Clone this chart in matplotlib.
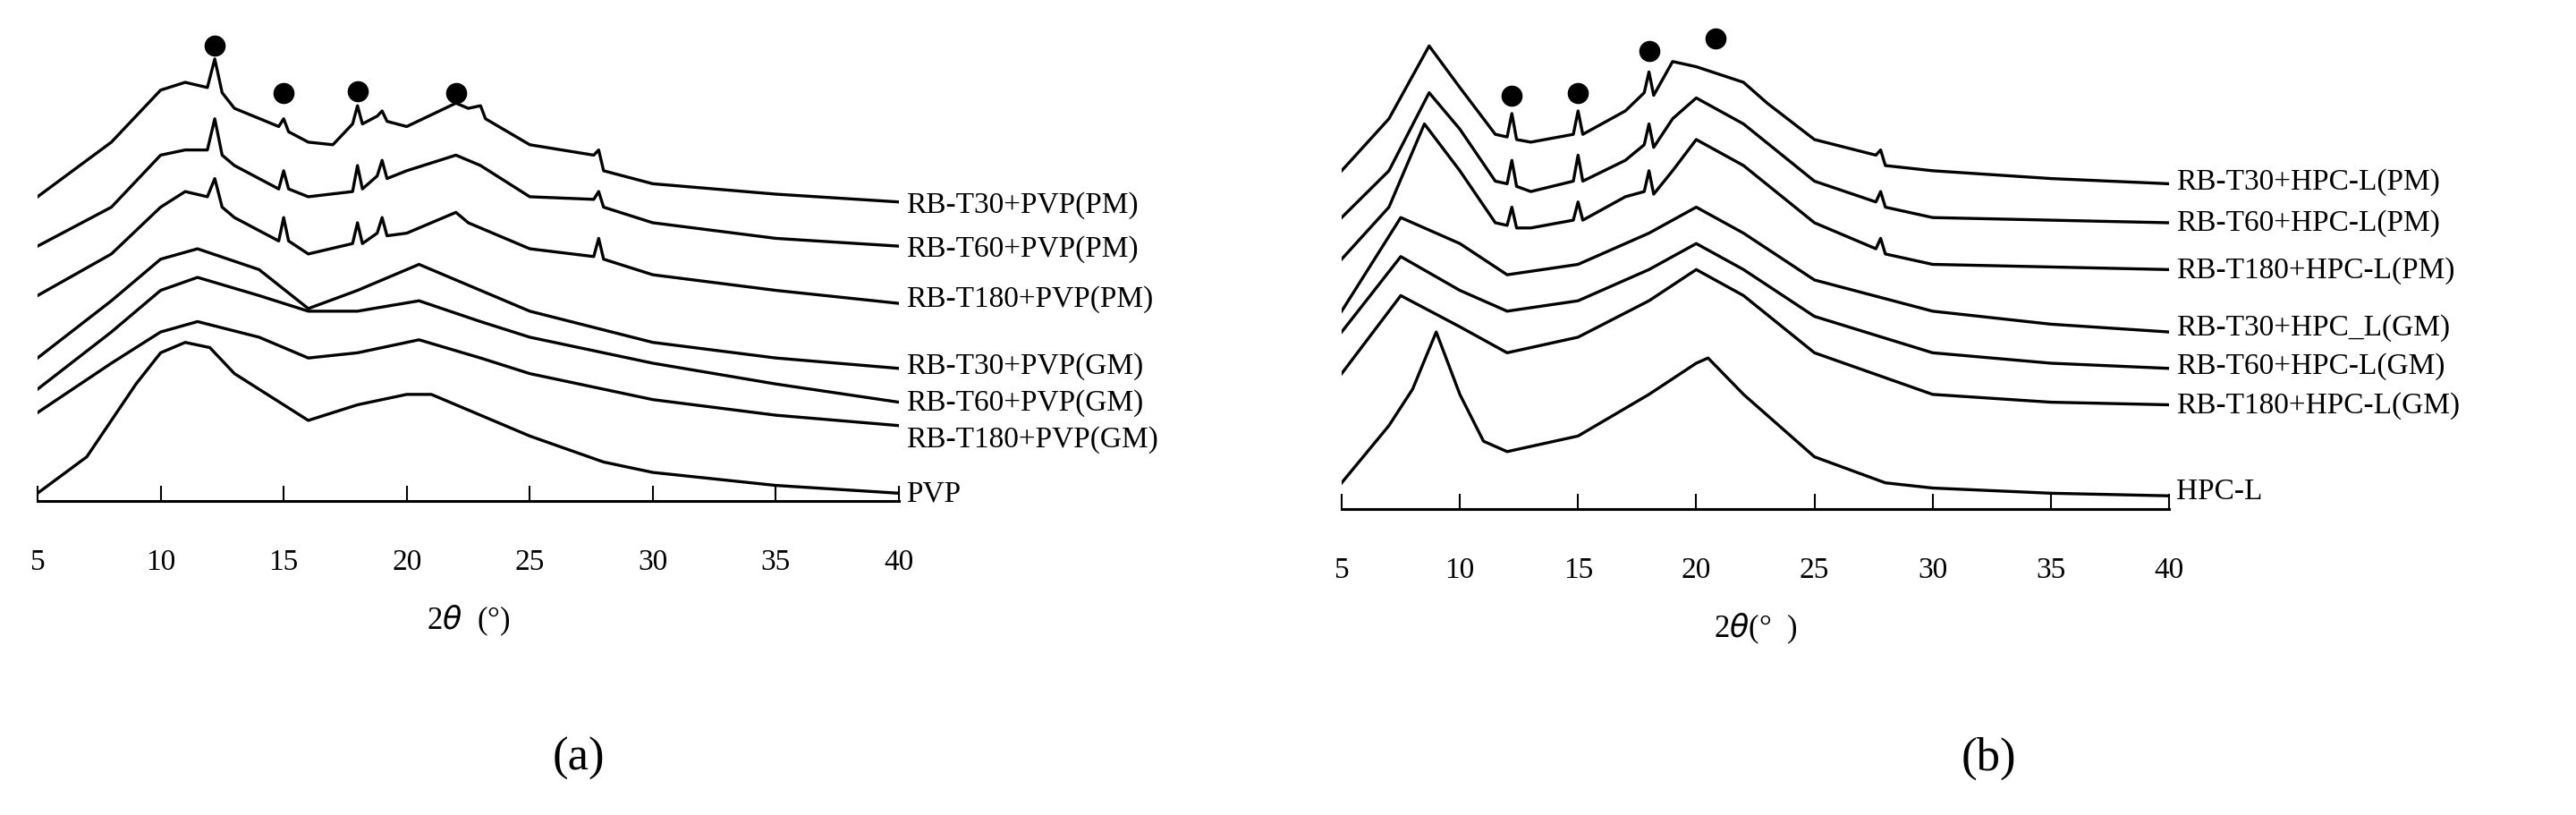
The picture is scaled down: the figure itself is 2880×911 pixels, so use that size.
import matplotlib
matplotlib.use("Agg")
import matplotlib.pyplot as plt

plt.rcParams['font.family'] = ['Liberation Serif', 'DejaVu Serif']

# ---- Panel (a): curves as (x, y_read) where y_read measured downward from the top (larger = lower)
a_axis = 965
a_names = ["RB-T30+PVP(PM)", "RB-T60+PVP(PM)", "RB-T180+PVP(PM)",
           "RB-T30+PVP(GM)", "RB-T60+PVP(GM)", "RB-T180+PVP(GM)", "PVP"]
a_x = [
 [5,8,10,11,11.9,12.2,12.5,13,14.8,15,15.2,16,17,17.8,18,18.2,18.8,19,19.2,20,22,22.5,23,23.2,25,27.6,27.8,28,30,35,40],
 [5,8,10,11,11.9,12.2,12.5,13,14.8,15,15.2,16,17.8,18,18.2,18.8,19,19.2,20,22,23,25,27.6,27.8,28,30,35,40],
 [5,8,10,11,11.9,12.2,12.5,13,14.8,15,15.2,16,17.8,18,18.2,18.8,19,19.2,20,22,22.5,25,27.6,27.8,28,30,35,40],
 [5,8,10,11.5,14,16,18,20.5,23,25,30,35,40],
 [5,8,10,11.5,14,16,18,20.5,23,25,30,35,40],
 [5,8,10,11.5,14,16,18,20.5,23,25,30,35,40],
 [5,7,9,10,11,12,13,15,16,18,20,21,23,25,28,30,35,40],
]
a_y = [
 [380,275,175,160,170,115,180,210,245,230,255,275,280,240,205,240,225,215,235,245,200,210,205,230,280,300,290,330,355,375,390],
 [475,400,300,290,290,230,300,320,365,330,365,380,370,320,365,340,310,345,330,300,320,380,385,370,400,430,460,475],
 [570,490,400,370,380,345,400,420,465,420,465,490,470,430,470,450,420,455,450,410,430,480,495,460,500,530,560,585],
 [690,580,500,480,520,595,560,510,560,600,660,690,710],
 [750,640,560,535,570,600,600,580,620,650,700,740,775],
 [795,700,640,620,650,690,680,655,690,720,770,800,820],
 [950,880,740,680,660,670,720,780,810,780,760,760,800,840,890,910,935,950],
]
a_lbl_y = [395, 480, 575, 705, 775, 845, 950]
a_dots_x = [12.2, 15.0, 18.0, 22.0]
a_dots_y = [90, 180, 178, 180]

# ---- Panel (b)
b_axis = 980
b_names = ["RB-T30+HPC-L(PM)", "RB-T60+HPC-L(PM)", "RB-T180+HPC-L(PM)",
           "RB-T30+HPC_L(GM)", "RB-T60+HPC-L(GM)", "RB-T180+HPC-L(GM)", "HPC-L"]
b_x = [
 [5,7,8.7,10,11.5,12.0,12.2,12.4,13,14.8,15,15.2,17,17.8,18,18.2,19,20,22,23,25,27.6,27.8,28,30,35,40],
 [5,7,8.7,10,11.5,12.0,12.2,12.4,13,14.8,15,15.2,17,17.8,18,18.2,19,20,22,25,27.6,27.8,28,30,35,40],
 [5,7,8.5,10,11.5,12.0,12.2,12.4,13,14.8,15,15.2,17,17.8,18,18.2,19,20,22,25,27.6,27.8,28,30,35,40],
 [5,7.5,10,12,15,18,20,22,25,30,35,40],
 [5,7.5,10,12,15,18,20,22,25,30,35,40],
 [5,7.5,10,12,15,18,20,22,25,30,35,40],
 [5,7,8,9,10,11,12,15,18,20,20.5,22,25,28,30,35,40],
]
b_y = [
 [330,230,90,170,260,265,220,270,275,260,215,260,215,180,140,185,120,130,160,200,270,300,290,320,330,345,355],
 [420,330,180,250,350,355,310,360,370,350,300,350,310,280,240,285,230,190,240,350,390,370,400,420,425,430],
 [500,400,240,330,430,435,400,440,440,425,390,425,380,370,330,375,330,270,320,430,480,460,490,510,515,520],
 [600,420,470,530,510,450,400,450,540,600,625,640],
 [640,495,560,600,580,520,470,520,610,680,700,710],
 [720,570,630,680,650,580,520,570,680,760,775,780],
 [930,820,750,640,760,850,870,840,760,700,690,760,880,930,940,950,955],
]
b_lbl_y = [350, 430, 520, 630, 705, 780, 945]
b_dots_x = [12.2, 15.0, 18.0, 20.8]
b_dots_y = [185, 180, 100, 75]

ticks = [5, 10, 15, 20, 25, 30, 35, 40]

fig = plt.figure(figsize=(28.8, 9.12), dpi=100)
S = 1.72  # read units -> pixels

def panel(rect, axis, xs, ys, names, lbl_y, dx, dy, xlabel, tag, tagx):
    ax = fig.add_axes(rect)
    for x, y in zip(xs, ys):
        ax.plot(x, [axis - v for v in y], color='black', lw=2.4)
    ax.plot(dx, [axis - v for v in dy], 'o', color='black', ms=16, clip_on=False)
    for n, ly in zip(names, lbl_y):
        ax.text(40.3, axis - ly, n, fontsize=24, va='center', ha='left', clip_on=False)
    ax.set_xlim(5, 40)
    ax.set_ylim(0, axis - 60)
    for s in ['top', 'right', 'left']:
        ax.spines[s].set_visible(False)
    ax.spines['bottom'].set_linewidth(2.2)
    ax.set_yticks([])
    ax.set_xticks(ticks)
    ax.tick_params(axis='x', direction='in', length=12, width=1.5, labelsize=24, pad=38)
    ax.set_xlabel(xlabel, fontsize=25, labelpad=22)
    fig.text(tagx, 0.07, tag, fontsize=38, ha='center', va='center')
    return ax

bot_a = 1 - (a_axis / S) / 912
top = 1 - (60 / S) / 912
panel([42/2880, bot_a, (1005-42)/2880, top - bot_a], a_axis, a_x, a_y, a_names, a_lbl_y,
      a_dots_x, a_dots_y, r"2$\theta$  (°)", "(a)", 647/2880)
bot_b = 1 - (b_axis / S) / 912
panel([1500/2880, bot_b, (2425-1500)/2880, top - bot_b], b_axis, b_x, b_y, b_names, b_lbl_y,
      b_dots_x, b_dots_y, r"2$\theta$(°  )", "(b)", 2223/2880)

fig.savefig("out.png", dpi=100)
